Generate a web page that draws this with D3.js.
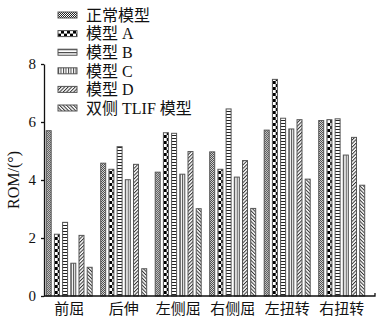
<!DOCTYPE html>
<html>
<head>
<meta charset="utf-8">
<script src="https://cdn.jsdelivr.net/npm/d3@7"></script>
<style>
  html, body { margin: 0; padding: 0; background: #fff; }
  svg { display: block; }
</style>
</head>
<body>
<svg id="chart" width="377" height="323"></svg>
<script>
// ---- data ----
const categories = ["前屈", "后伸", "左侧屈", "右侧屈", "左扭转", "右扭转"];
const seriesNames = ["正常模型", "模型 A", "模型 B", "模型 C", "模型 D", "双侧 TLIF 模型"];
const normalValues = [5.70, 4.58, 4.27, 4.97, 5.72, 6.05];
const modelAValues = [2.13, 4.37, 5.63, 4.37, 7.47, 6.08];
const modelBValues = [2.54, 5.15, 5.61, 6.45, 6.13, 6.11];
const modelCValues = [1.13, 4.01, 4.20, 4.10, 5.76, 4.86];
const modelDValues = [2.09, 4.54, 4.98, 4.67, 6.08, 5.47];
const tlifValues   = [0.99, 0.94, 3.01, 3.02, 4.03, 3.82];
const yTicks = [0, 2, 4, 6, 8];
const yLabel = "ROM/(°)";

const seriesValues = [normalValues, modelAValues, modelBValues, modelCValues, modelDValues, tlifValues];

// ---- layout ----
const svg = d3.select("#chart");
const latin = "'Liberation Serif', 'Times New Roman', 'Noto Sans CJK SC', serif";
const axisLeftX = 44, axisRightX = 375;
const y = d3.scaleLinear().domain([0, 8]).range([296, 64]);
const x0 = d3.scaleBand().domain(categories).range([45.7, 365.2]).paddingInner(0.138).paddingOuter(0);
const x1 = d3.scaleBand().domain(d3.range(seriesNames.length)).range([0, x0.bandwidth()]).paddingInner(0.27).paddingOuter(0);

// ---- patterns ----
const defs = svg.append("defs");
const ink = "#222";
function pat(id, w, h, build, transform) {
  const p = defs.append("pattern").attr("id", id).attr("patternUnits", "userSpaceOnUse")
    .attr("width", w).attr("height", h);
  if (transform) p.attr("patternTransform", transform);
  p.append("rect").attr("width", w).attr("height", h).attr("fill", "#fff");
  build(p);
}
// fine checker
pat("p0", 2, 2, p => {
  p.append("rect").attr("x", 0).attr("y", 0).attr("width", 1).attr("height", 1).attr("fill", ink);
  p.append("rect").attr("x", 1).attr("y", 1).attr("width", 1).attr("height", 1).attr("fill", ink);
});
// coarse checker
pat("p1", 6, 6, p => {
  p.append("rect").attr("x", 0).attr("y", 0).attr("width", 3).attr("height", 3).attr("fill", "#000");
  p.append("rect").attr("x", 3).attr("y", 3).attr("width", 3).attr("height", 3).attr("fill", "#000");
});
// horizontal lines
pat("p2", 4, 3, p => {
  p.append("rect").attr("x", 0).attr("y", 0).attr("width", 4).attr("height", 1).attr("fill", ink);
});
// vertical lines
pat("p3", 2.5, 4, p => {
  p.append("rect").attr("x", 0).attr("y", 0).attr("width", 1).attr("height", 4).attr("fill", "#444");
});
// diagonal /
pat("p4", 2.5, 4, p => {
  p.append("rect").attr("x", 0).attr("y", 0).attr("width", 1).attr("height", 4).attr("fill", "#333");
}, "rotate(45)");
// diagonal \
pat("p5", 2.5, 4, p => {
  p.append("rect").attr("x", 0).attr("y", 0).attr("width", 1).attr("height", 4).attr("fill", "#333");
}, "rotate(-45)");

// ---- bars ----
const groups = svg.append("g").selectAll("g").data(categories).join("g")
  .attr("transform", c => `translate(${x0(c)},0)`);
groups.selectAll("rect")
  .data((c, ci) => seriesValues.map((vals, si) => ({ si, v: vals[ci] })))
  .join("rect")
  .attr("x", d => x1(d.si) + 0.5)
  .attr("y", d => y(d.v))
  .attr("width", x1.bandwidth() - 1)
  .attr("height", d => y(0) - y(d.v))
  .attr("fill", d => `url(#p${d.si})`)
  .attr("stroke", "#555")
  .attr("stroke-width", 1);

// ---- axes ----
const yAxis = svg.append("g").attr("transform", `translate(${axisLeftX},0)`)
  .call(d3.axisLeft(y).tickValues(yTicks).tickSize(3).tickSizeOuter(0).tickPadding(5));
yAxis.select(".domain").attr("stroke", "#111").attr("stroke-width", 1.3);
yAxis.selectAll(".tick line").attr("stroke", "#111").attr("stroke-width", 1.3);
yAxis.selectAll(".tick text").attr("font-family", latin).attr("font-size", 15).attr("fill", "#111");

const baseline = d3.path();
baseline.moveTo(axisLeftX, y(0));
baseline.lineTo(axisRightX, y(0));
baseline.lineTo(axisRightX, y(0) - 3);
svg.append("path").attr("d", baseline.toString()).attr("fill", "none")
  .attr("stroke", "#111").attr("stroke-width", 1.3);

// category labels
svg.append("g").selectAll("text").data(categories).join("text")
  .attr("x", c => x0(c) + x0.bandwidth() / 2)
  .attr("y", y(0) + 18)
  .attr("text-anchor", "middle")
  .attr("font-family", "'Noto Sans CJK SC', sans-serif")
  .attr("font-size", 15)
  .attr("fill", "#111")
  .text(c => c);

// y label
svg.append("text")
  .attr("transform", `translate(19,${(y(0) + y(8)) / 2}) rotate(-90)`)
  .attr("text-anchor", "middle")
  .attr("font-family", latin)
  .attr("font-size", 16)
  .attr("fill", "#111")
  .text(yLabel);

// ---- legend ----
const legend = svg.append("g");
const rows = legend.selectAll("g").data(seriesNames).join("g")
  .attr("transform", (d, i) => `translate(58,${15 + i * 18.6})`);
rows.append("rect")
  .attr("x", 0).attr("y", -3).attr("width", 19).attr("height", 6)
  .attr("fill", (d, i) => `url(#p${i})`)
  .attr("stroke", "#555").attr("stroke-width", 1);
rows.append("text")
  .attr("x", 28).attr("y", 0).attr("dy", "0.36em")
  .attr("font-family", latin)
  .attr("font-size", 16)
  .attr("fill", "#111")
  .text(d => d);
</script>
</body>
</html>
